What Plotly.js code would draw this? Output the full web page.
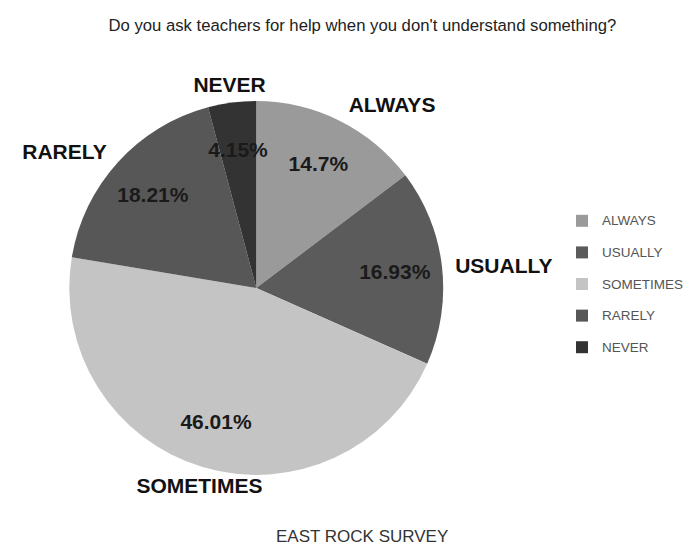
<!DOCTYPE html>
<html>
<head>
<meta charset="utf-8">
<script src="https://cdn.plot.ly/plotly-3.0.1.min.js"></script>
<style>html,body{margin:0;padding:0;background:#fff;}#chart{width:689px;height:545px;}</style>
</head>
<body>
<div id="chart"></div>
<script>
var categories = ["ALWAYS", "USUALLY", "SOMETIMES", "RARELY", "NEVER"];
var percentages = [14.7, 16.93, 46.01, 18.21, 4.15];
var sliceColors = ["#9a9a9a", "#5b5b5b", "#c4c4c4", "#575757", "#333333"];
var titleText = "Do you ask teachers for help when you don't understand something?";
var footerText = "EAST ROCK SURVEY";

// which text goes to which (transparent) text layer
var pctWide = ["ALWAYS", "USUALLY", "SOMETIMES", "RARELY"];
var pctNarrow = ["NEVER"];
var lblOutside = ["ALWAYS", "USUALLY", "RARELY"];
var lblTop = ["NEVER"];
var lblBottom = ["SOMETIMES"];

var W = 689, H = 545;
var FONT = "Liberation Sans, Arial, sans-serif";
function dom(cx, cy, r) {
  return {x: [(cx - r) / W, (cx + r) / W], y: [1 - (cy + r) / H, 1 - (cy - r) / H]};
}
var clear = categories.map(function () { return "rgba(0,0,0,0)"; });
function pick(list, yes, no) {
  return categories.map(function (c) { return list.indexOf(c) >= 0 ? yes : no; });
}
function base(extra) {
  return Object.assign({
    type: "pie", labels: categories, values: percentages, sort: false,
    direction: "clockwise", rotation: 0, hoverinfo: "none",
    marker: {colors: clear, line: {width: 0}}, showlegend: false
  }, extra);
}

var pieMain = base({
  labels: categories.map(function (c) {
    return "<span style='font-size:13.5px;baseline-shift:4px'>" + c + "</span>";
  }),
  marker: {colors: sliceColors, line: {width: 0}},
  textposition: "none",
  domain: dom(257, 288, 187.5),
  showlegend: true
});

var pctA = base({
  hole: 0.5135,
  texttemplate: pick(pctWide, "<b>%{value}%</b>", ""),
  textposition: pick(pctWide, "inside", "none"),
  insidetextorientation: "horizontal",
  textfont: {family: FONT, size: 21, color: "#1a1a1a"},
  domain: dom(257, 288, 185)
});

var pctB = base({
  hole: 0.78,
  texttemplate: pick(pctNarrow, "<b>%{value}%</b>", ""),
  textposition: pick(pctNarrow, "inside", "none"),
  insidetextorientation: "horizontal",
  textfont: {family: FONT, size: 21, color: "#1a1a1a"},
  domain: dom(257, 288, 157)
});

var lblA = base({
  texttemplate: pick(lblOutside, "<b>%{label}</b>", ""),
  textposition: pick(lblOutside, "outside", "none"),
  outsidetextfont: {family: FONT, size: 21, color: "#111"},
  automargin: false,
  domain: dom(257, 288, 195)
});

var lblB = base({
  hole: 0.79,
  texttemplate: pick(lblTop, "<b>%{label}</b>", ""),
  textposition: pick(lblTop, "inside", "none"),
  insidetextorientation: "horizontal",
  textfont: {family: FONT, size: 21, color: "#111"},
  domain: dom(257, 288, 230)
});

var lblC = base({
  hole: 0.79,
  texttemplate: pick(lblBottom, "<b>%{label}</b>", ""),
  textposition: pick(lblBottom, "inside", "none"),
  insidetextorientation: "horizontal",
  textfont: {family: FONT, size: 21, color: "#111"},
  domain: dom(200, 314, 200)
});

var layout = {
  width: W, height: H,
  paper_bgcolor: "#fff",
  margin: {l: 0, r: 0, t: 0, b: 0},
  uniformtext: {mode: "show", minsize: 21},
  title: {text: titleText, x: 0.526, xanchor: "center", y: 0.954, yanchor: "middle",
          font: {family: FONT, size: 16.7, color: "#222"}},
  legend: {x: 0.8185, y: 0.633, xanchor: "left", yanchor: "top",
           font: {family: FONT, size: 22, color: "#555"},
           traceorder: "normal"},
  annotations: [{text: footerText, xref: "paper", yref: "paper", x: 0.527, y: 0.0147,
                 xanchor: "center", yanchor: "middle", showarrow: false,
                 font: {family: FONT, size: 17, color: "#333"}}],
  showlegend: true
};

Plotly.newPlot("chart", [pieMain, pctA, pctB, lblA, lblB, lblC], layout, {displayModeBar: false});
</script>
</body>
</html>
